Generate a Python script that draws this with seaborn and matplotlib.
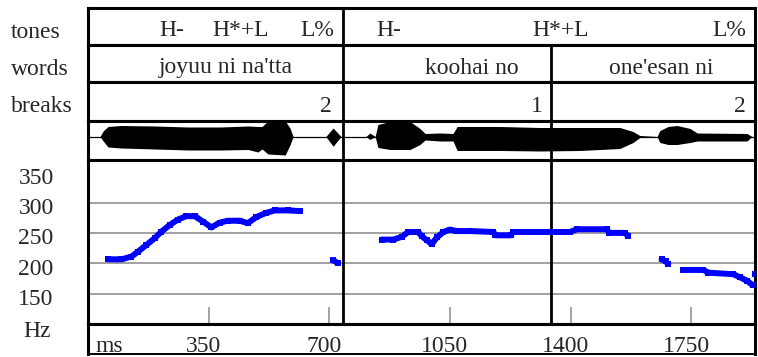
import numpy as np
import pandas as pd
import matplotlib
matplotlib.use("Agg")
import matplotlib.pyplot as plt
import seaborn as sns
from matplotlib.transforms import blended_transform_factory, offset_copy

# label tiers (times in ms)
tone_labels = ["H-", "H*+L", "L%", "H-", "H*+L", "L%"]
tone_times = [244, 444, 666, 873, 1372, 1861]
word_labels = ["joyuu ni na'tta", "koohai no", "one'esan ni"]
word_times = [399, 1114, 1662]
break_labels = ["2", "1", "2"]
break_times = [690, 1302, 1890]
phrase_bounds = [740]
word_bounds = [740, 1343]

# f0 track, one pair of lists per voiced stretch
f0_t1 = [58, 97, 126, 145, 169, 193, 213, 237, 261, 285, 310, 334, 358, 382, 406, 440, 464, 488, 517, 542, 580, 614]
f0_hz1 = [206.5, 206.5, 211, 219, 230, 241, 252, 263, 272, 277.5, 277.5, 268.5, 259, 267, 270, 270, 266, 276, 283, 287, 287, 286]
f0_t2 = [711, 725]
f0_hz2 = [205, 200]
f0_t3 = [852, 886, 910, 929, 958, 968, 983, 997, 1012, 1031, 1050, 1069, 1108, 1176, 1182, 1226, 1234, 1302, 1398, 1419, 1505, 1512, 1558, 1566]
f0_hz3 = [239, 239, 243.5, 251.5, 251.5, 244.5, 238, 231.5, 242.5, 251.5, 255.5, 253, 253, 251.5, 246, 246, 251.5, 251.5, 251.5, 256, 256, 250, 250, 245]
f0_t4 = [1664, 1676, 1683]
f0_hz4 = [206.5, 203, 199]
f0_t5 = [1727, 1785, 1800, 1872, 1891, 1911, 1928]
f0_hz5 = [189, 189, 184.5, 182, 177, 171.5, 164]
f0_t6 = [1935]
f0_hz6 = [182]

# waveform envelope (ms, upper, lower)
wave_t = [35, 44, 58, 96, 194, 290, 386, 464, 493, 505, 522, 572, 586, 595, 690, 711, 734, 806, 818, 833,
          841, 876, 934, 963, 978, 1021, 1059, 1071, 1195, 1311, 1427, 1543, 1581, 1601, 1651, 1659, 1683,
          1709, 1747, 1767, 1912, 1926]
wave_up = [0, 5.5, 10, 11, 10.5, 9.5, 9.5, 10.5, 10, 10, 15.5, 15.5, 8.5, 0, 0, 8.5, 0, 0, 3.5, 0,
           12, 15, 15, 8, 3, 3.5, 3, 10, 10, 9, 9, 9, 5, 1, 0, 6, 10, 11, 8, 3.5, 3, 0]
wave_dn = [0, -4.5, -10.5, -11.5, -12.5, -13.5, -13.5, -13, -15.5, -12.5, -17.5, -18.5, -8.5, 0, 0, -9.8, 0, 0, -3, 0,
           -11, -13, -13, -8, -3.5, -4.5, -4.5, -14, -14, -14.5, -14, -12, -6, -1, 0, -6, -8, -8, -6, -4.5, -4.5, 0]

yticks = [350, 300, 250, 200, 150]
grid_hz = [150, 200, 250, 300]
ms_ticks = [350, 700, 1050, 1400, 1750]

sns.set_theme(style="white")
plt.rcParams["font.family"] = ["Liberation Serif", "DejaVu Serif"]
plt.rcParams["font.size"] = 17

W, H = 758, 357
fig = plt.figure(figsize=(W / 100, H / 100), dpi=100)
XL, XR = 88, 755
XMAX = 1935


def row(top, bottom, bottom_lw=2.2):
    ax = fig.add_axes([XL / W, 1 - bottom / H, (XR - XL) / W, (bottom - top) / H])
    ax.set_xlim(0, XMAX)
    ax.set_xticks([])
    ax.set_yticks([])
    for s in ax.spines.values():
        s.set_color("black")
        s.set_linewidth(2.2)
    ax.spines["bottom"].set_linewidth(bottom_lw)
    return ax


def fy(py):
    return 1 - py / H


ax_tone = row(8, 45)
ax_word = row(45, 82)
ax_brk = row(82, 121)
ax_wave = row(121, 160)
ax_f0 = row(160, 324)
ax_ms = row(324, 354, bottom_lw=1.4)

# left tier names
for name, base in [("tones", 38), ("words", 75), ("breaks", 111.5)]:
    fig.text(11 / W, fy(base), name, ha="left", va="baseline")

# tiers
for ax, labels, times, base in [(ax_tone, tone_labels, tone_times, 36),
                                (ax_word, word_labels, word_times, 73.5),
                                (ax_brk, break_labels, break_times, 111.5)]:
    tr = blended_transform_factory(ax.transData, fig.transFigure)
    for lab, t in zip(labels, times):
        ax.text(t, fy(base), lab, transform=tr, ha="center", va="baseline")

for b in phrase_bounds:
    ax_tone.axvline(b, color="black", lw=2)
for ax in [ax_word, ax_brk, ax_wave, ax_f0]:
    for b in word_bounds:
        ax.axvline(b, color="black", lw=2)

# waveform
ax_wave.fill_between(wave_t, wave_dn, wave_up, color="black", lw=0)
ax_wave.axhline(0, color="black", lw=0.9)
ax_wave.set_ylim(-23.5, 15.5)

# f0 panel
ax_f0.set_ylim(100, 370)
for g in grid_hz:
    ax_f0.axhline(g, color="#999999", lw=1.3, zorder=0)

segs = [(f0_t1, f0_hz1), (f0_t2, f0_hz2), (f0_t3, f0_hz3), (f0_t4, f0_hz4), (f0_t5, f0_hz5), (f0_t6, f0_hz6)]
f0 = pd.concat([pd.DataFrame({"t": t, "hz": h, "seg": i}) for i, (t, h) in enumerate(segs)])
sns.lineplot(data=f0, x="t", y="hz", units="seg", estimator=None, sort=False,
             color="#0000ff", lw=4.3, marker="s", markersize=5, markeredgewidth=0,
             legend=False, ax=ax_f0, zorder=3)
ax_f0.set_xlabel("")
ax_f0.set_ylabel("")
ax_f0.set_xlim(0, XMAX)
ax_f0.set_xticks(ms_ticks)
ax_f0.tick_params(axis="x", direction="in", length=12.2, width=1.1, color="#8c8c8c",
                  labelbottom=False, bottom=True)
ax_f0.set_yticks([])

ytr = offset_copy(blended_transform_factory(fig.transFigure, ax_f0.transData), fig=fig, y=-11.5, units="dots")
for v in yticks:
    fig.text(36 / W, v, str(v), transform=ytr, ha="center", va="baseline")
fig.text(37.5 / W, fy(337), "Hz", ha="center", va="baseline")

# ms row
mtr = offset_copy(blended_transform_factory(ax_ms.transData, fig.transFigure), fig=fig, x=-5, units="dots")
for t in ms_ticks:
    ax_ms.text(t, fy(351.5), str(t), transform=mtr, ha="center", va="baseline")
ax_ms.text(95 / W, fy(351.5), "ms", transform=fig.transFigure, ha="left", va="baseline")

fig.savefig("out.png", dpi=100, facecolor="white")
